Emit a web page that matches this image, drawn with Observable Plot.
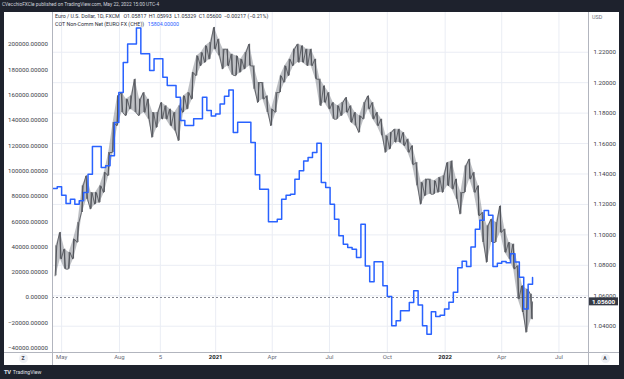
<!DOCTYPE html>
<html><head><meta charset="utf-8">
<script src="https://cdn.jsdelivr.net/npm/d3@7"></script>
<script src="https://cdn.jsdelivr.net/npm/@observablehq/plot@0.6"></script>
<style>
html,body{margin:0;padding:0;}
body{width:624px;height:379px;background:#1e222d;position:relative;overflow:hidden;font-family:Roboto,"Noto Sans",sans-serif;}
#hdr{position:absolute;left:2px;top:1px;font-size:4.8px;color:#d1d4dc;line-height:8px;white-space:nowrap;}
#panel{position:absolute;left:4px;top:12px;width:615px;height:353px;background:#fff;overflow:hidden;}
#panel svg{display:block;position:absolute;left:0;top:0;}
.sep{position:absolute;background:#b2b5be;}
.leg{position:absolute;left:51px;font-size:5.3px;color:#2a2e39;white-space:nowrap;line-height:7px;}
.leg span{margin-left:2.4px;}
#usd{position:absolute;left:588px;top:1.5px;font-size:5.4px;color:#6a6d78;}
.btn{position:absolute;width:9px;height:9px;border-radius:50%;background:#eef0f5;color:#434651;font-size:5px;line-height:9px;text-align:center;font-weight:bold;}
#foot{position:absolute;left:4px;top:368px;font-size:5.2px;color:#e0e3eb;white-space:nowrap;line-height:8px;}
#foot b{font-size:5.8px;margin-right:2px;letter-spacing:-0.3px;}
</style></head>
<body>
<div id="hdr">CVecchioFXCle published on TradingView.com, May 22, 2022 15:00 UTC-4</div>
<div id="panel"></div>
<div id="foot"><b>TV</b>TradingView</div>
<script>
// ---- data ----
const cotStart = "2020-04-17";          // first weekly COT step (Fridays)
const cotValues = [86200,87500,80900,74300,77700,73800,76400,83000,97500,119400,
 119400,102800,104100,112000,138300,162000,185800,200300,200300,213000,
 192600,192600,179400,188700,188700,174100,167600,167600,158300,139900,
 136000,136000,141300,141300,158300,147800,143500,145000,153000,159000,
 164000,130500,138500,138500,138500,122500,97000,85600,85600,59800,
 59800,61900,77700,80900,81700,93500,100100,108000,110700,114600,
 122000,90900,87000,73800,61900,48800,42100,39500,38200,31600,
 57900,25000,12400,28200,28200,9200,800,-22400,-18400,-10500,
 -10500,-4000,5300,-6000,-22400,-29000,-11300,-15000,-14000,-9000,
 -3700,4200,23500,28700,24500,40000,54000,61000,68700,65000,
 24500,27000,28500,27500,34500,28000,16000,-9000,10500];
const cotLastDate = "2022-05-20";
const cotLastValue = 15804;

const priceStart = "2020-04-22";        // weekly mid-points (Wednesdays)
const priceHigh = [1.0928,1.1016,1.0906,1.0884,1.0972,1.1081,1.1322,1.1388,1.1278,1.1278,
 1.1322,1.1410,1.1541,1.1738,1.1913,1.1935,1.1891,1.1913,1.2023,1.1891,
 1.1935,1.1891,1.1804,1.1804,1.1869,1.1848,1.1826,1.1804,1.1848,1.1913,
 1.1935,1.2067,1.2176,1.2198,1.2242,1.2264,1.2363,1.2286,1.2220,1.2220,
 1.2187,1.2176,1.2154,1.2198,1.2253,1.2110,1.2001,1.2001,1.1913,1.1826,
 1.1935,1.2045,1.2110,1.2154,1.2220,1.2253,1.2242,1.2220,1.2220,1.2154,
 1.2023,1.1979,1.1935,1.1869,1.1848,1.1869,1.1902,1.1848,1.1804,1.1782,
 1.1869,1.1913,1.1869,1.1804,1.1760,1.1651,1.1672,1.1694,1.1694,1.1672,
 1.1629,1.1585,1.1475,1.1344,1.1366,1.1366,1.1355,1.1377,1.1388,1.1475,
 1.1486,1.1366,1.1278,1.1453,1.1497,1.1410,1.1322,1.1147,1.1059,1.1103,
 1.1081,1.1190,1.1037,1.0950,1.0939,1.0797,1.0665,1.0643,1.0610];
const priceLow = [1.0731,1.0841,1.0775,1.0775,1.0841,1.0950,1.1147,1.1234,1.1169,1.1201,
 1.1212,1.1278,1.1388,1.1541,1.1716,1.1804,1.1782,1.1826,1.1804,1.1782,
 1.1804,1.1760,1.1640,1.1705,1.1760,1.1760,1.1716,1.1683,1.1618,1.1804,
 1.1826,1.1891,1.2045,1.2110,1.2132,1.2154,1.2220,1.2176,1.2089,1.2110,
 1.2050,1.2045,1.2067,1.2089,1.2110,1.1957,1.1869,1.1891,1.1804,1.1716,
 1.1804,1.1935,1.2001,1.2045,1.2110,1.2132,1.2132,1.2110,1.2110,1.2023,
 1.1848,1.1869,1.1826,1.1760,1.1760,1.1782,1.1804,1.1738,1.1716,1.1672,
 1.1760,1.1826,1.1760,1.1716,1.1651,1.1541,1.1563,1.1607,1.1607,1.1585,
 1.1541,1.1460,1.1322,1.1201,1.1256,1.1267,1.1267,1.1278,1.1278,1.1322,
 1.1300,1.1234,1.1136,1.1278,1.1366,1.1278,1.1125,1.0950,1.0819,1.0950,
 1.0950,1.1015,1.0884,1.0840,1.0775,1.0578,1.0490,1.0359,1.0446];
const lastCloseDate = "2022-05-20";
const lastClose = 1.05600;

const priceTicks = [1.04,1.06,1.08,1.10,1.12,1.14,1.16,1.18,1.20,1.22];
const cotTicks = [-40000,-20000,0,20000,40000,60000,80000,100000,120000,140000,160000,180000,200000];
const xTickDates = ["2020-05-01","2020-08-01","2020-10-05","2021-01-01","2021-04-01","2021-07-01","2021-10-01","2022-01-01","2022-04-01","2022-07-01"];
const xTickLabels = ["May","Aug","5","2021","Apr","Jul","Oct","2022","Apr","Jul"];
const xTickIsYear = [false,false,false,true,false,false,false,true,false,false];

// ---- scales (both vertical scales share the same pane) ----
const xDomain = [new Date("2020-04-16T12:00Z"), new Date("2022-08-17T00:00Z")];
const cotDomain = [-43478, 225296];
const priceDomain = [1.02272, 1.24611];
const toCot = p => cotDomain[0] + (p - priceDomain[0]) / (priceDomain[1] - priceDomain[0]) * (cotDomain[1] - cotDomain[0]);
const toPrice = v => priceDomain[0] + (v - cotDomain[0]) / (cotDomain[1] - cotDomain[0]) * (priceDomain[1] - priceDomain[0]);

const parse = d3.utcParse("%Y-%m-%d");
const cotData = cotValues.map((v, i) => ({date: d3.utcDay.offset(parse(cotStart), 7 * i), value: v}));
cotData.push({date: parse(cotLastDate), value: cotLastValue});

const priceWeeks = priceHigh.map((h, i) => ({date: d3.utcDay.offset(parse(priceStart), 7 * i), hi: h, lo: priceLow[i]}));
// weekly range traced low->high (rising weeks) or high->low (falling weeks)
const day = 864e5;
const pricePts = [];
priceWeeks.forEach((w, i) => {
  const next = priceWeeks[i + 1];
  const up = next ? (next.hi + next.lo) > (w.hi + w.lo) : false;
  const a = new Date(+w.date - 1.4 * day), b = new Date(+w.date + 1.4 * day);
  pricePts.push({date: a, p: up ? w.lo : w.hi}, {date: b, p: up ? w.hi : w.lo});
});
pricePts.push({date: parse(lastCloseDate), p: lastClose});

const labelOf = new Map(xTickDates.map((d, i) => [+parse(d), xTickLabels[i]]));
const monthTicks = xTickDates.filter((d, i) => !xTickIsYear[i]).map(parse);
const yearTicks = xTickDates.filter((d, i) => xTickIsYear[i]).map(parse);
const allTicks = xTickDates.map(parse);
const fmtCot = v => (v < 0 ? "\u2212" : "") + Math.abs(v).toFixed(5);

const W = 615, H = 353, ML = 48, MR = 31, MB = 13;
const plot = Plot.plot({
  width: W, height: H,
  marginLeft: ML, marginRight: MR, marginTop: 0, marginBottom: MB,
  style: {background: "transparent", color: "#3b3e48", fontFamily: "Roboto, 'Noto Sans', sans-serif", overflow: "visible"},
  x: {type: "utc", domain: xDomain, axis: null},
  y: {domain: cotDomain, axis: null},
  marks: [
    Plot.gridX(allTicks, {stroke: "#eaedf4", strokeOpacity: 1}),
    Plot.gridY(priceTicks.map(toCot), {stroke: "#eaedf4", strokeOpacity: 1}),
    Plot.ruleY([0], {stroke: "#787b86", strokeDasharray: "2,2", strokeWidth: 0.9}),
    Plot.areaY(priceWeeks, {x: "date", y1: d => toCot(d.lo), y2: d => toCot(d.hi), fill: "#7e8189", fillOpacity: 0.5}),
    Plot.ruleX(priceWeeks, {x: "date", y1: d => toCot(d.lo), y2: d => toCot(d.hi), stroke: "#55585f", strokeWidth: 1}),
    Plot.line(pricePts, {x: "date", y: d => toCot(d.p), stroke: "#4a4c53", strokeWidth: 0.8}),
    Plot.line(cotData, {x: "date", y: "value", curve: "step-after", stroke: "#2962ff", strokeWidth: 1.5}),
    Plot.axisY(cotTicks, {anchor: "left", tickSize: 0, tickPadding: 4.5, fontSize: 6.2, tickFormat: fmtCot, label: null, color: "#3b3e48"}),
    Plot.axisY(priceTicks.map(toCot), {anchor: "right", tickSize: 0, tickPadding: 5, fontSize: 6.2, tickFormat: v => toPrice(v).toFixed(5), label: null, color: "#3b3e48"}),
    Plot.axisX(monthTicks, {anchor: "bottom", tickSize: 0, tickPadding: 2.5, fontSize: 6, tickFormat: d => labelOf.get(+d), label: null, color: "#6a6d78"}),
    Plot.axisX(yearTicks, {anchor: "bottom", tickSize: 0, tickPadding: 2.5, fontSize: 6, fontWeight: "bold", tickFormat: d => labelOf.get(+d), label: null, color: "#131722"})
  ]
});
const panel = document.getElementById("panel");
panel.appendChild(plot);

// last-price label on the right scale
const yPix = plot.scale("y").apply(toCot(lastClose));
const svg = d3.select(plot);
svg.append("rect").attr("x", W - MR + 1).attr("y", yPix - 4).attr("width", 29).attr("height", 8).attr("fill", "#363a45");
svg.append("text").attr("x", W - MR + 4).attr("y", yPix).attr("dy", "0.35em").attr("text-anchor", "start").attr("fill", "#ffffff")
  .attr("font-size", 6.2).attr("font-weight", "bold").attr("font-family", "Roboto, sans-serif").text(lastClose.toFixed(5));

// separators
function sep(l, t, w, h) { const d = document.createElement("div"); d.className = "sep"; Object.assign(d.style, {left: l + "px", top: t + "px", width: w + "px", height: h + "px"}); panel.appendChild(d); }
sep(ML, 0, 1, H); sep(W - MR, 0, 1, H); sep(0, H - MB, W, 1);

// legend
const leg1 = document.createElement("div"); leg1.className = "leg"; leg1.style.top = "0.5px";
leg1.innerHTML = "Euro / U.S. Dollar, 1D, FXCM <span>O1.05817</span><span>H1.05993</span><span>L1.05329</span><span>C1.05600</span><span>\u22120.00217 (\u22120.21%)</span>";
panel.appendChild(leg1);
const leg2 = document.createElement("div"); leg2.className = "leg"; leg2.style.top = "8.5px";
leg2.innerHTML = "COT Non-Comm Net (EURO FX (CHE)) <span style='color:#2962ff'>" + cotLastValue.toFixed(5) + "</span>";
panel.appendChild(leg2);
const usd = document.createElement("div"); usd.id = "usd"; usd.textContent = "USD"; panel.appendChild(usd);
function btn(l, t, s) { const d = document.createElement("div"); d.className = "btn"; d.style.left = l + "px"; d.style.top = t + "px"; d.textContent = s; panel.appendChild(d); }
btn(14.5, 341.5, "Z"); btn(596.5, 341.5, "A");
</script>
</body></html>
